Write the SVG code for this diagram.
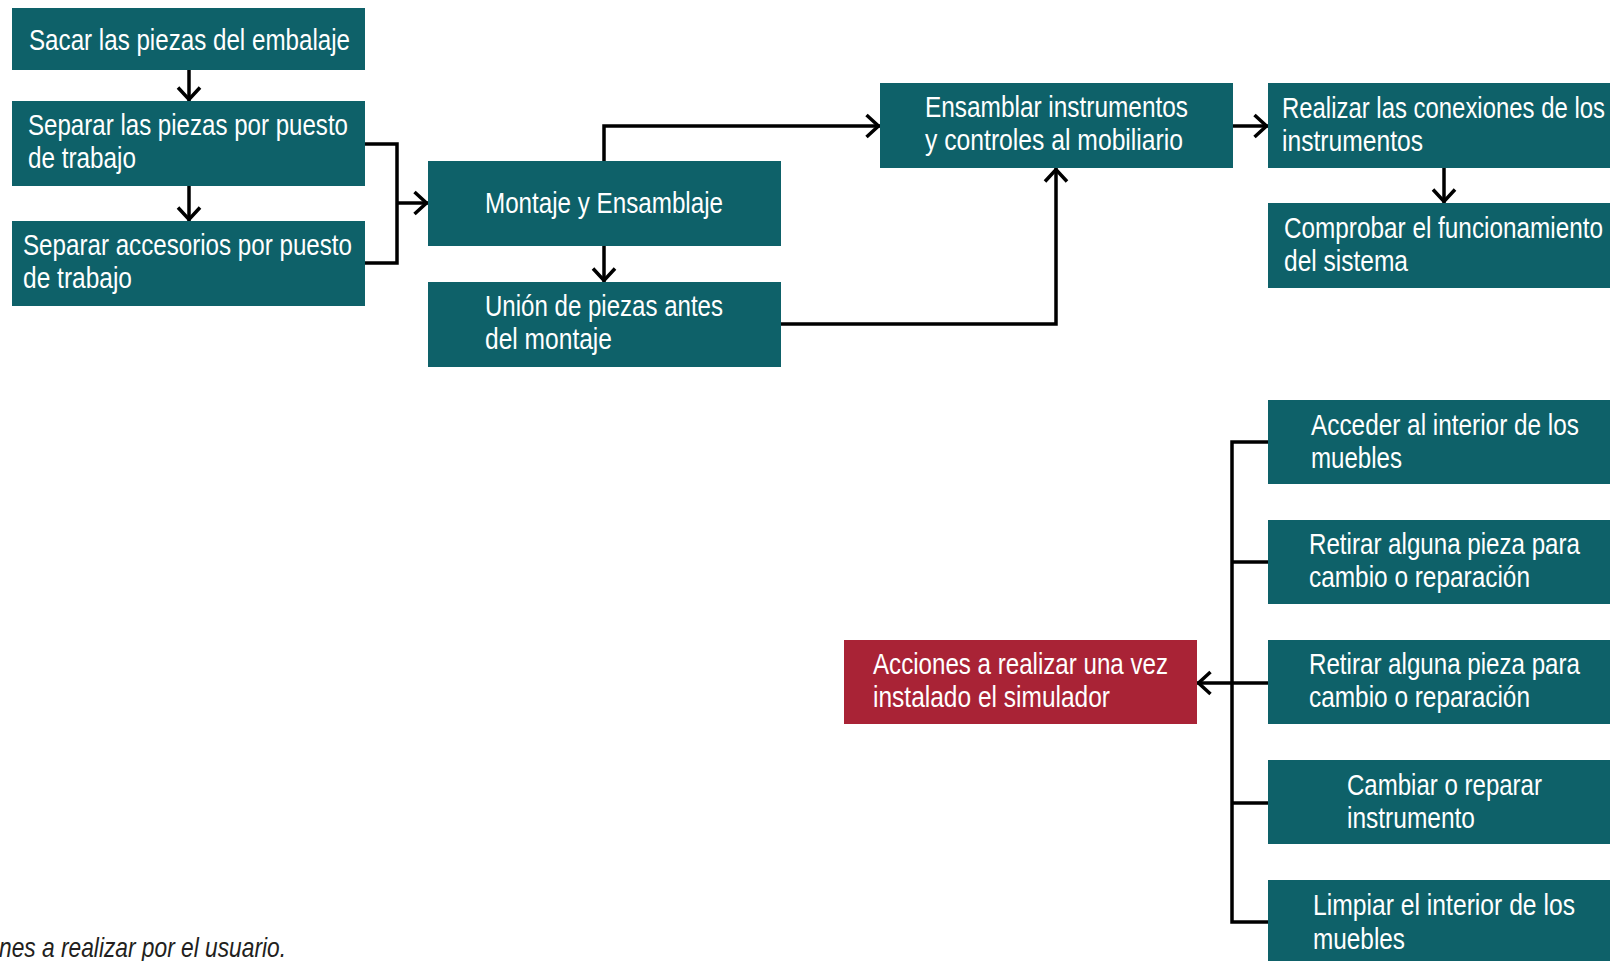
<svg xmlns="http://www.w3.org/2000/svg" width="1610" height="961" viewBox="0 0 1610 961">
<style>
.box{fill:#0e6169}
.red{fill:#a92336}
.t{font-family:"Liberation Sans Narrow","Liberation Sans",Arial,sans-serif;font-size:30px;fill:#ffffff}
.c{fill:none;stroke:#000;stroke-width:3.5;stroke-linejoin:miter}
.cap{font-family:"Liberation Sans Narrow","Liberation Sans",Arial,sans-serif;font-size:28px;font-style:italic;fill:#231f20}
</style>
<defs>
<marker id="ah" markerUnits="userSpaceOnUse" viewBox="-16 -14 20 28" markerWidth="20" markerHeight="28" refX="0" refY="0" orient="auto">
<path d="M-13.5,-11 L-1.5,0 L-13.5,11" fill="none" stroke="#000" stroke-width="3.5"/>
</marker>
</defs>
<rect width="1610" height="961" fill="#ffffff"/>

<g id="connectors">
<path class="c" d="M189,70 V101" marker-end="url(#ah)"/>
<path class="c" d="M189,186 V221" marker-end="url(#ah)"/>
<path class="c" d="M365,144 H397 V263 H365"/>
<path class="c" d="M397,203 H428" marker-end="url(#ah)"/>
<path class="c" d="M604,246 V282" marker-end="url(#ah)"/>
<path class="c" d="M604,161 V126 H880" marker-end="url(#ah)"/>
<path class="c" d="M781,324 H1056 V168" marker-end="url(#ah)"/>
<path class="c" d="M1233,126 H1268" marker-end="url(#ah)"/>
<path class="c" d="M1444,168 V203" marker-end="url(#ah)"/>
<path class="c" d="M1268,442 H1232 V922 H1268"/>
<path class="c" d="M1232,562 H1268"/>
<path class="c" d="M1232,803 H1268"/>
<path class="c" d="M1268,683 H1197" marker-end="url(#ah)"/>
</g>

<g id="n1"><rect class="box" x="12" y="8" width="353" height="62"/>
<text class="t" x="29" y="50" textLength="321" lengthAdjust="spacingAndGlyphs">Sacar las piezas del embalaje</text></g>

<g id="n2"><rect class="box" x="12" y="101" width="353" height="85"/>
<text class="t" x="28" y="135" textLength="320" lengthAdjust="spacingAndGlyphs">Separar las piezas por puesto</text>
<text class="t" x="28" y="168" textLength="108" lengthAdjust="spacingAndGlyphs">de trabajo</text></g>

<g id="n3"><rect class="box" x="12" y="221" width="353" height="85"/>
<text class="t" x="23" y="255" textLength="329" lengthAdjust="spacingAndGlyphs">Separar accesorios por puesto</text>
<text class="t" x="23" y="288" textLength="109" lengthAdjust="spacingAndGlyphs">de trabajo</text></g>

<g id="n4"><rect class="box" x="428" y="161" width="353" height="85"/>
<text class="t" x="485" y="213" textLength="238" lengthAdjust="spacingAndGlyphs">Montaje y Ensamblaje</text></g>

<g id="n5"><rect class="box" x="428" y="282" width="353" height="85"/>
<text class="t" x="485" y="316" textLength="238" lengthAdjust="spacingAndGlyphs">Unión de piezas antes</text>
<text class="t" x="485" y="349" textLength="127" lengthAdjust="spacingAndGlyphs">del montaje</text></g>

<g id="n6"><rect class="box" x="880" y="83" width="353" height="85"/>
<text class="t" x="925" y="117" textLength="263" lengthAdjust="spacingAndGlyphs">Ensamblar instrumentos</text>
<text class="t" x="925" y="150" textLength="258" lengthAdjust="spacingAndGlyphs">y controles al mobiliario</text></g>

<g id="n7"><rect class="box" x="1268" y="83" width="342" height="85"/>
<text class="t" x="1282" y="118" textLength="323" lengthAdjust="spacingAndGlyphs">Realizar las conexiones de los</text>
<text class="t" x="1282" y="151" textLength="141" lengthAdjust="spacingAndGlyphs">instrumentos</text></g>

<g id="n8"><rect class="box" x="1268" y="203" width="342" height="85"/>
<text class="t" x="1284" y="238" textLength="319" lengthAdjust="spacingAndGlyphs">Comprobar el funcionamiento</text>
<text class="t" x="1284" y="271" textLength="124" lengthAdjust="spacingAndGlyphs">del sistema</text></g>

<g id="n9"><rect class="box" x="1268" y="400" width="342" height="84"/>
<text class="t" x="1311" y="435" textLength="268" lengthAdjust="spacingAndGlyphs">Acceder al interior de los</text>
<text class="t" x="1311" y="468" textLength="91" lengthAdjust="spacingAndGlyphs">muebles</text></g>

<g id="n10"><rect class="box" x="1268" y="520" width="342" height="84"/>
<text class="t" x="1309" y="554" textLength="271" lengthAdjust="spacingAndGlyphs">Retirar alguna pieza para</text>
<text class="t" x="1309" y="587" textLength="221" lengthAdjust="spacingAndGlyphs">cambio o reparación</text></g>

<g id="n11"><rect class="box" x="1268" y="640" width="342" height="84"/>
<text class="t" x="1309" y="674" textLength="271" lengthAdjust="spacingAndGlyphs">Retirar alguna pieza para</text>
<text class="t" x="1309" y="707" textLength="221" lengthAdjust="spacingAndGlyphs">cambio o reparación</text></g>

<g id="n12"><rect class="box" x="1268" y="760" width="342" height="84"/>
<text class="t" x="1347" y="795" textLength="195" lengthAdjust="spacingAndGlyphs">Cambiar o reparar</text>
<text class="t" x="1347" y="828" textLength="128" lengthAdjust="spacingAndGlyphs">instrumento</text></g>

<g id="n13"><rect class="box" x="1268" y="880" width="342" height="81"/>
<text class="t" x="1313" y="915" textLength="262" lengthAdjust="spacingAndGlyphs">Limpiar el interior de los</text>
<text class="t" x="1313" y="949" textLength="92" lengthAdjust="spacingAndGlyphs">muebles</text></g>

<g id="n14"><rect class="red" x="844" y="640" width="353" height="84"/>
<text class="t" x="873" y="674" textLength="295" lengthAdjust="spacingAndGlyphs">Acciones a realizar una vez</text>
<text class="t" x="873" y="707" textLength="237" lengthAdjust="spacingAndGlyphs">instalado el simulador</text></g>

<g id="caption">
<text class="cap" x="-1" y="957" textLength="287" lengthAdjust="spacingAndGlyphs">nes a realizar por el usuario.</text>
</g>
</svg>
